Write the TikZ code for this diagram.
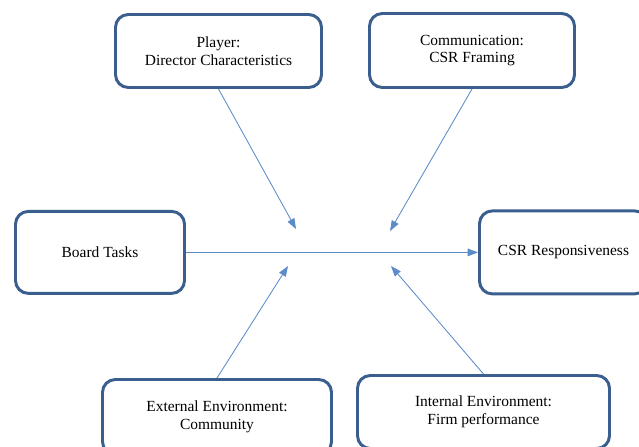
\documentclass[tikz,border=0pt]{standalone}
\usepackage{fontspec}
\setmainfont{Liberation Serif}
\usepackage{tikz}
\usetikzlibrary{arrows.meta}
\usepackage{xcolor}
\definecolor{boxline}{HTML}{3A5F8F}
\definecolor{arrowline}{HTML}{5B8BC9}

\begin{document}
\begin{tikzpicture}[
        factor/.style={
            rectangle,
            draw=boxline,
            line width=2.1pt,
            rounded corners=0.32cm,
            fill=white,
            align=center,
            font=\fontsize{11}{12.5}\selectfont
        },
        arrow/.style={
            -{Triangle[length=2.6mm,width=1.9mm]},
            draw=arrowline,
            line width=0.6pt
        }
    ]

    \useasboundingbox (0,0) rectangle (15.975,11.15);

    % Factors
    \node[factor, minimum width=5.15cm, minimum height=1.825cm] (player) at (5.4625, 9.875) {Player:\\Director Characteristics};
    \node[factor, minimum width=5.125cm, minimum height=1.85cm] (comm) at (11.8, 9.8875) {Communication:\\CSR Framing};
    \node[factor, minimum width=4.225cm, minimum height=2.05cm] (tasks) at (2.5, 4.84) {Board Tasks};
    \node[factor, minimum width=4.2cm, minimum height=2.075cm] (resp) at (14.0875, 4.84) {CSR Responsiveness};
    \node[factor, minimum width=5.725cm, minimum height=1.875cm] (ext) at (5.425, 0.725) {External Environment:\\Community};
    \node[factor, minimum width=6.3cm, minimum height=1.825cm] (int) at (12.0875, 0.85) {Internal Environment:\\Firm performance};

    % Arrow tips
    \coordinate (tip_player) at (7.4, 5.425);
    \coordinate (tip_comm) at (9.75, 5.375);
    \coordinate (tip_ext) at (7.2, 4.5);
    \coordinate (tip_int) at (9.775, 4.5);

    % Arrows
    \draw[arrow] (player.south) -- (tip_player);
    \draw[arrow] (comm.south) -- (tip_comm);
    \draw[arrow] (ext.north) -- (tip_ext);
    \draw[arrow] (int.north) -- (tip_int);
    \draw[arrow] (tasks.east) -- (resp.west);

\end{tikzpicture}
\end{document}
